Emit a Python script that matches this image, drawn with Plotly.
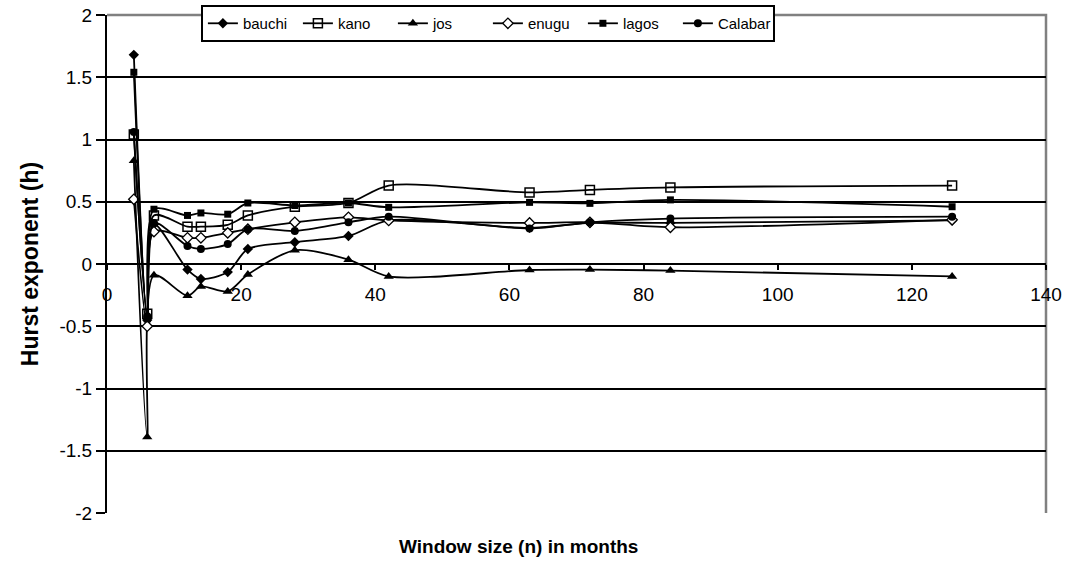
import plotly.graph_objects as go

# ---- data ----
window = [4, 6, 7, 12, 14, 18, 21, 28, 36, 42, 63, 72, 84, 126]
bauchi = [1.68, -0.45, 0.32, -0.045, -0.12, -0.065, 0.12, 0.175, 0.225, 0.35, 0.29, 0.33, 0.33, 0.35]
kano = [1.04, -0.40, 0.39, 0.30, 0.30, 0.315, 0.39, 0.46, 0.49, 0.63, 0.575, 0.595, 0.615, 0.63]
jos = [0.83, -1.39, -0.09, -0.255, -0.18, -0.22, -0.085, 0.11, 0.035, -0.10, -0.048, -0.045, -0.053, -0.10]
enugu = [0.52, -0.50, 0.26, 0.21, 0.21, 0.25, 0.28, 0.335, 0.375, 0.35, 0.33, 0.335, 0.295, 0.355]
lagos = [1.54, -0.44, 0.44, 0.39, 0.41, 0.40, 0.49, 0.47, 0.49, 0.455, 0.495, 0.487, 0.515, 0.46]
calabar = [1.06, -0.42, 0.33, 0.145, 0.12, 0.16, 0.28, 0.265, 0.335, 0.38, 0.285, 0.335, 0.365, 0.38]

y_tickvals = [2, 1.5, 1, 0.5, 0, -0.5, -1, -1.5, -2]
y_ticktext = ["2", "1.5", "1", "0.5", "0", "-0.5", "-1", "-1.5", "-2"]
x_tickvals = [0, 20, 40, 60, 80, 100, 120, 140]
x_ticktext = ["0", "20", "40", "60", "80", "100", "120", "140"]

series = [
    ("bauchi", bauchi, dict(symbol="diamond", size=8, color="black")),
    ("kano", kano, dict(symbol="square-open", size=9, color="black", line=dict(width=1.5, color="black"))),
    ("jos", jos, dict(symbol="triangle-up", size=9, color="black")),
    ("enugu", enugu, dict(symbol="diamond", size=8, color="white", line=dict(width=1.3, color="black"))),
    ("lagos", lagos, dict(symbol="square", size=7, color="black")),
    ("Calabar", calabar, dict(symbol="circle", size=8, color="black")),
]

FONT = "Arial, Liberation Sans, sans-serif"

fig = go.Figure()
for name, vals, mk in series:
    fig.add_trace(go.Scatter(
        x=window, y=vals, name=name, mode="lines+markers",
        line=dict(color="black", width=1.8, shape="spline", smoothing=0.8),
        marker=mk,
    ))

fig.update_layout(
    width=1070, height=561,
    margin=dict(l=107, r=24, t=15, b=48, autoexpand=False),
    paper_bgcolor="white", plot_bgcolor="white",
    font=dict(family=FONT, color="black", size=16),
    showlegend=True,
    legend=dict(
        orientation="h", x=0.1, xanchor="left", y=1.02, yanchor="top",
        bordercolor="black", borderwidth=2, bgcolor="white",
        font=dict(size=15, family=FONT),
        entrywidth=50, entrywidthmode="pixels",
        itemwidth=30,
    ),
    xaxis=dict(
        range=[0, 140], tickvals=x_tickvals, ticktext=x_ticktext,
        anchor="free", position=0.5,
        showline=True, linecolor="black", linewidth=2,
        ticks="outside", ticklen=5, tickwidth=1.5, tickcolor="black",
        showgrid=False, zeroline=False,
        tickfont=dict(size=19, family=FONT),
        ticklabelstandoff=8,
    ),
    yaxis=dict(
        range=[-2, 2], tickvals=y_tickvals, ticktext=y_ticktext,
        showline=True, linecolor="black", linewidth=2,
        ticks="outside", ticklen=9, tickwidth=1.5, tickcolor="black",
        showgrid=True, gridcolor="black", gridwidth=1.5,
        zeroline=False,
        tickfont=dict(size=19, family=FONT),
        title=dict(text="<b>Hurst exponent (h)</b>", font=dict(size=23, family=FONT), standoff=14),
    ),
    shapes=[dict(type="path", xref="paper", yref="paper", path="M 0,1 L 1,1 L 1,0",
                 line=dict(color="#808080", width=2.5), layer="below")],
    annotations=[dict(text="<b>Window size (n) in months</b>", xref="paper", yref="paper",
                      x=0.438, y=-0.068, xanchor="center", yanchor="middle", showarrow=False,
                      font=dict(size=19, family=FONT))],
)

fig.write_html("out.html")
